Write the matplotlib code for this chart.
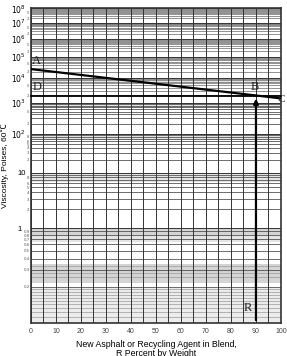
import numpy as np
import matplotlib.pyplot as plt
from matplotlib.patches import FancyArrowPatch
from matplotlib.transforms import ScaledTranslation

# datos
visc_A = 2.6e4        # viscosidad del asfalto envejecido (R = 0)
visc_C = 1.5e3        # viscosidad del agente (R = 100)
visc_D = 1.9e3        # viscosidad objetivo
pct_R = 90            # porcentaje en la mezcla

x_ticks = [0, 10, 20, 30, 40, 50, 60, 70, 80, 90, 100]
decades = [0.1, 1, 10, 1e2, 1e3, 1e4, 1e5, 1e6, 1e7, 1e8]
decade_labels = ["", "1", "10", "$10^2$", "$10^3$", "$10^4$", "$10^5$",
                 "$10^6$", "$10^7$", "$10^8$"]


# escala log-log de la carta de mezcla
def fwd(v):
    v = np.asarray(v, dtype=float)
    inner = np.log10(np.maximum(v, 1e-300)) + 2
    return np.log10(np.maximum(inner, 1e-9))


def inv(t):
    return 10 ** (10 ** np.asarray(t, dtype=float) - 2)


fig = plt.figure(figsize=(2.87, 3.56), dpi=100)
ax = fig.add_axes([0.108, 0.093, 0.871, 0.884])
ax.set_yscale("function", functions=(fwd, inv))
ax.set_xlim(0, 100)
ax.set_ylim(0.1, 1.05e8)

# rejilla
for d in decades[1:]:
    ax.axhspan(0.65 * d, d, color="#e4e4e4", lw=0, zorder=0)
ax.axhspan(0.8, 1.0, color="#d4d4d4", lw=0, zorder=0)
ax.axhspan(0.22, 0.35, color="#d4d4d4", lw=0, zorder=0)
ax.axhspan(0.1, 0.2, color="#ececec", lw=0, zorder=0)
for v in np.arange(0.11, 0.2, 0.01):
    ax.axhline(v, color="#999999", lw=0.5, zorder=1)
for v in np.arange(0.25, 0.35, 0.025):
    ax.axhline(v, color="#999999", lw=0.5, zorder=1)
for d in decades[:-1]:
    col = "#555555" if d < 1e3 else "#808080"
    for k in range(2, 10):
        ax.axhline(k * d, color=col, lw=0.6, zorder=1)
for d in decades:
    ax.axhline(d, color="#333333", lw=0.7, zorder=1)
for xv in range(0, 101, 5):
    ax.axvline(xv, color="#333333", lw=0.7, zorder=1)

# ejes
ax.set_yticks(decades)
ax.set_yticklabels(decade_labels, fontsize=5.5, family="Liberation Sans")
minor_vals, minor_labs = [], []
for d in decades[:-1]:
    if d < 1:
        ks = [2, 3, 4, 5, 6, 7, 8, 9]
    elif d < 100:
        ks = [2, 3, 4, 5, 6, 8]
    else:
        ks = [2, 5]
    for k in ks:
        minor_vals.append(k * d)
        minor_labs.append(f"{k * d:g}" if d < 1 else str(k))
ax.set_yticks(minor_vals, minor=True)
ax.set_yticklabels(minor_labs, minor=True, fontsize=2.8, color="#555555")
ax.tick_params(axis="y", which="major", length=0, pad=3.5)
ax.tick_params(axis="y", which="minor", length=0, pad=1)
ax.set_xticks(x_ticks)
ax.set_xticklabels([str(v) for v in x_ticks], fontsize=5, color="#444444",
                   family="Liberation Sans")
ax.tick_params(axis="x", length=0, pad=4)
for s in ax.spines.values():
    s.set_color("#333333")
    s.set_linewidth(1.2)

# el "1" se corre a la izquierda para no pisar 0.9
tick_one = ax.yaxis.get_major_ticks()[1]
tick_one.label1.set_transform(tick_one.label1.get_transform()
                              + ScaledTranslation(-3.5 / 72, 0, fig.dpi_scale_trans))

# líneas de la carta
ax.plot([0, 100], [visc_A, visc_C], color="black", lw=1.6, zorder=3,
        solid_capstyle="butt", clip_on=False)
ax.plot([0, pct_R + 10], [visc_D, visc_D], color="black", lw=1.3, zorder=3,
        clip_on=False)
ax.add_patch(FancyArrowPatch((pct_R, 0.1), (pct_R, visc_D), arrowstyle="-|>",
                             mutation_scale=7, lw=1.6, color="black",
                             zorder=4, clip_on=False))

serif = dict(family="Liberation Serif", fontsize=9, color="#222222")
ax.text(0.5, visc_A * 2.4, "A", ha="left", va="center", **serif)
ax.text(0.5, visc_D * 2.3, "D", ha="left", va="center", **serif)
ax.text(pct_R - 2, visc_D * 2.2, "B", ha="left", va="center", **serif)
ax.text(98.6, visc_C * 0.9, "C", ha="left", va="center", clip_on=False,
        family="Liberation Serif", fontsize=8, color="#222222", zorder=5)
ax.text(pct_R - 5, 0.13, "R", ha="left", va="center", **serif)

ax.set_ylabel("Viscosity, Poises, 60\u2103", fontsize=6,
              family=["Liberation Sans", "Noto Sans CJK JP", "DejaVu Sans"])
ax.yaxis.set_label_coords(-0.086, 0.5)
ax.set_xlabel("New Asphalt or Recycling Agent in Blend,\nR Percent by Weight",
              fontsize=6.3, family="Liberation Sans", linespacing=0.95)
ax.xaxis.set_label_coords(0.5, -0.054)

fig.savefig("out.png", dpi=100)
